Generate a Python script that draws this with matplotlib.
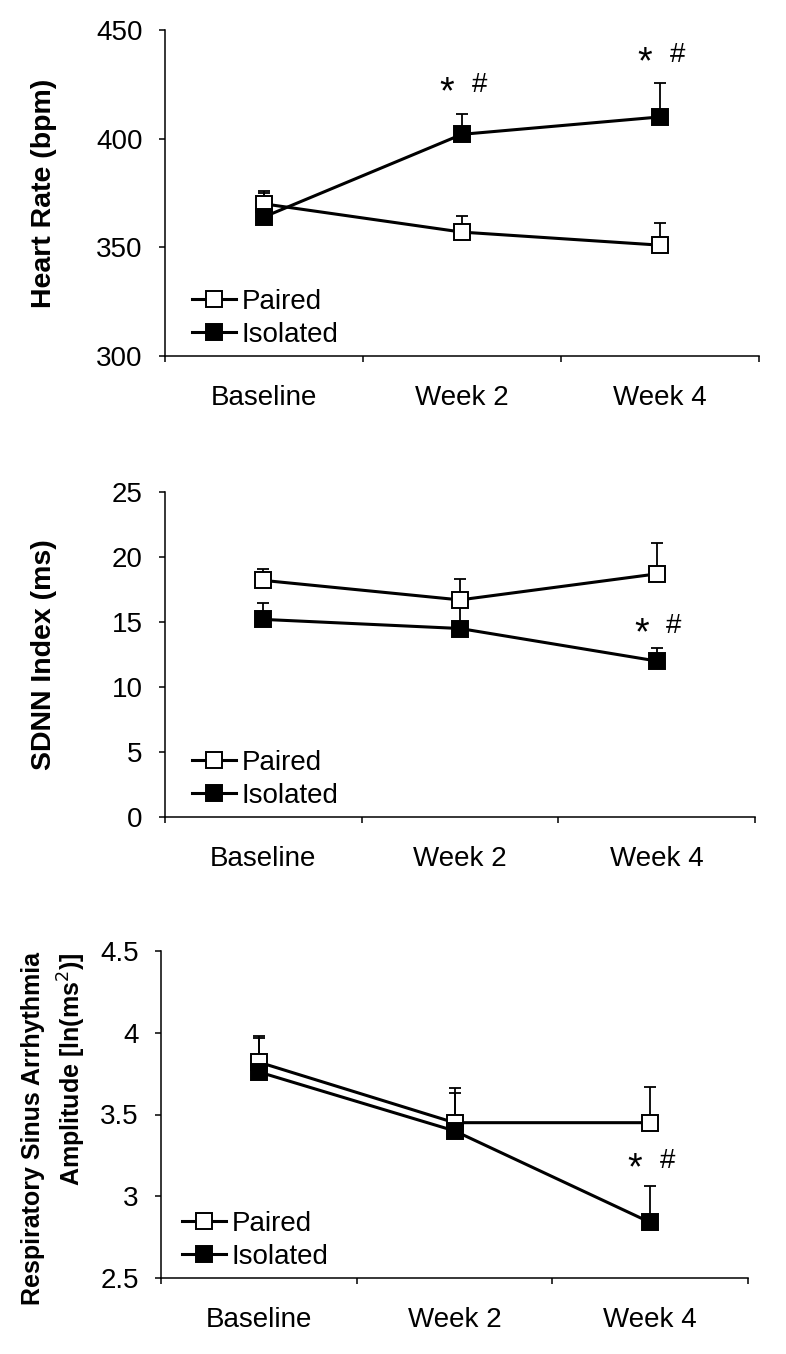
import matplotlib; matplotlib.use("Agg")
import matplotlib.pyplot as plt
from matplotlib.lines import Line2D

plt.rcParams["font.family"] = ["Liberation Sans", "DejaVu Sans"]

timepoints = ["Baseline", "Week 2", "Week 4"]

# heart rate (bpm)
hr_paired = [370, 357, 351]
hr_paired_err = [6, 7.5, 10]
hr_isolated = [364, 402, 410]
hr_isolated_err = [11, 9.5, 15.5]
hr_sig = [(1, 424), (2, 438)]

# SDNN index (ms)
sdnn_paired = [18.2, 16.7, 18.7]
sdnn_paired_err = [0.9, 1.6, 2.4]
sdnn_isolated = [15.2, 14.5, 12.0]
sdnn_isolated_err = [1.3, 1.9, 1.0]
sdnn_sig = [(2, 14.6)]

# RSA amplitude ln(ms^2)
rsa_paired = [3.82, 3.45, 3.45]
rsa_paired_err = [0.16, 0.21, 0.22]
rsa_isolated = [3.76, 3.40, 2.84]
rsa_isolated_err = [0.21, 0.23, 0.22]
rsa_sig = [(2, 3.21)]

W, H = 786, 1354
fig = plt.figure(figsize=(W / 100, H / 100), dpi=100)

panels = [
    dict(rect=(165, 30, 759, 356), p=hr_paired, pe=hr_paired_err, i=hr_isolated, ie=hr_isolated_err,
         sig=hr_sig, ylim=(300, 450), yt=[300, 350, 400, 450], ylab="Heart Rate (bpm)",
         labsize=20.5, labx=57, laby=0.5, leg=(192, 0.025)),
    dict(rect=(165, 492, 755, 817), p=sdnn_paired, pe=sdnn_paired_err, i=sdnn_isolated, ie=sdnn_isolated_err,
         sig=sdnn_sig, ylim=(0, 25), yt=[0, 5, 10, 15, 20, 25], ylab="SDNN Index (ms)",
         labsize=20.5, labx=57, laby=0.5, leg=(192, 0.025)),
    dict(rect=(161, 951, 748, 1278), p=rsa_paired, pe=rsa_paired_err, i=rsa_isolated, ie=rsa_isolated_err,
         sig=rsa_sig, ylim=(2.5, 4.5), yt=[2.5, 3, 3.5, 4, 4.5],
         ylab="Respiratory Sinus Arrhythmia\nAmplitude [ln(ms$^2$)]",
         labsize=18, labx=88, laby=0.456, leg=(182, 0.025)),
]

xs = [0.5, 1.5, 2.5]
for pn in panels:
    x0, y0, x1, y1 = pn["rect"]
    ax = fig.add_axes([x0 / W, 1 - y1 / H, (x1 - x0) / W, (y1 - y0) / H])
    ax.errorbar(xs, pn["p"], yerr=[[0] * 3, pn["pe"]], fmt="none", ecolor="k", elinewidth=1.3,
                capsize=4, capthick=1.3, zorder=1)
    ax.errorbar(xs, pn["i"], yerr=[[0] * 3, pn["ie"]], fmt="none", ecolor="k", elinewidth=1.3,
                capsize=4, capthick=1.3, zorder=1)
    ax.plot(xs, pn["p"], c="k", lw=2.2, marker="s", ms=11, mfc="white", mec="k", mew=1.4, zorder=3)
    ax.plot(xs, pn["i"], c="k", lw=2.2, marker="s", ms=11, mfc="black", mec="k", mew=1.4, zorder=4)
    for k, yv in pn["sig"]:
        ax.annotate("*", (xs[k], yv), xytext=(-11, -5), textcoords="offset points",
                    ha="center", va="center", fontsize=27)
        ax.annotate("#", (xs[k], yv), xytext=(12.5, 1), textcoords="offset points",
                    ha="center", va="center", fontsize=20)
    ax.set_xlim(0, 3)
    ax.set_ylim(*pn["ylim"])
    ax.set_yticks(pn["yt"])
    ax.set_yticklabels([f"{v:g}" for v in pn["yt"]])
    ax.set_xticks([0, 1, 2, 3])
    ax.set_xticklabels([])
    ax.set_xticks(xs, minor=True)
    ax.set_xticklabels(timepoints, minor=True)
    ax.tick_params(axis="x", which="minor", length=0, pad=21, labelsize=20)
    ax.tick_params(axis="both", which="major", length=4, width=1.1, direction="out", labelsize=20, pad=12)
    for s in ["top", "right"]:
        ax.spines[s].set_visible(False)
    for s in ["left", "bottom"]:
        ax.spines[s].set_linewidth(1.1)
    ax.set_ylabel(pn["ylab"], fontsize=pn["labsize"], fontweight="bold", linespacing=1.45,
                  multialignment="right")
    ax.yaxis.set_label_coords((pn["labx"] - x0) / (x1 - x0), pn["laby"])
    handles = [
        Line2D([], [], c="k", lw=2.2, marker="s", ms=11, mfc="white", mec="k", mew=1.4),
        Line2D([], [], c="k", lw=2.2, marker="s", ms=11, mfc="black", mec="k", mew=1.4),
    ]
    lx, ly = pn["leg"]
    ax.legend(handles, ["Paired", "Isolated"], loc="lower left", frameon=False, fontsize=20,
              bbox_to_anchor=((lx - x0) / (x1 - x0), ly), borderpad=0, borderaxespad=0,
              handlelength=1.6, handletextpad=0.2, labelspacing=0.25)

plt.savefig("out.png", dpi=100)
